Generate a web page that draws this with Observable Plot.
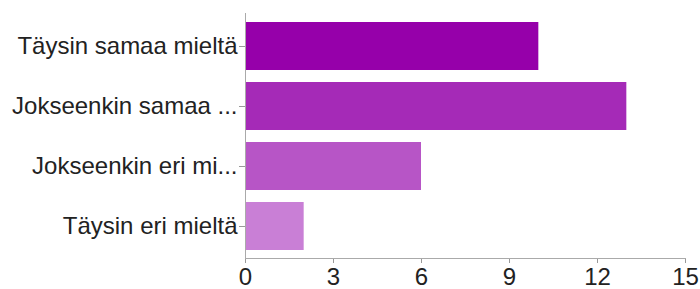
<!DOCTYPE html>
<html>
<head>
<meta charset="utf-8">
<script src="https://cdn.jsdelivr.net/npm/d3@7"></script>
<script src="https://cdn.jsdelivr.net/npm/@observablehq/plot@0.6"></script>
<style>
  html, body { margin: 0; padding: 0; background: #fff; }
</style>
</head>
<body>
<div id="chart"></div>
<script>
const categories = ["Täysin samaa mieltä", "Jokseenkin samaa ...", "Jokseenkin eri mi...", "Täysin eri mieltä"];
const values = [10, 13, 6, 2];
const barColors = ["#9600aa", "#a52ab7", "#b755c6", "#c97fd6"];
const xTicks = [0, 3, 6, 9, 12, 15];

const data = categories.map((c, i) => ({category: c, value: values[i]}));

const chart = Plot.plot({
  width: 700,
  height: 289,
  marginLeft: 245,
  marginRight: 15,
  marginTop: 13,
  marginBottom: 31,
  style: {fontFamily: "'Liberation Sans', Arial, sans-serif", fontSize: "24px", color: "#222", background: "#fff"},
  x: {domain: [0, 15], ticks: xTicks, label: null},
  y: {domain: categories, paddingInner: 0.2, paddingOuter: 0.14, label: null},
  color: {domain: categories, range: barColors},
  marks: [
    Plot.barX(data, {x: "value", y: "category", fill: "category"}),
    Plot.axisY({tickSize: 6, tickPadding: 2, stroke: "#999", fill: "#222", label: null}),
    Plot.axisX({ticks: xTicks, tickSize: 5, tickPadding: 4, stroke: "#999", fill: "#222", label: null}),
    Plot.ruleX([0], {stroke: "#aaa"}),
    Plot.frame({anchor: "bottom", stroke: "#aaa"})
  ]
});
document.getElementById("chart").appendChild(chart);
</script>
</body>
</html>
